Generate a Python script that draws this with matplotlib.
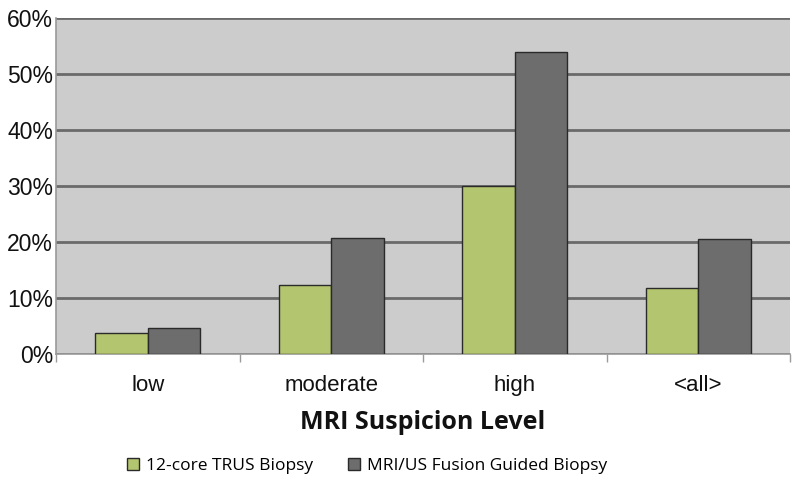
import matplotlib
matplotlib.use("Agg")
import matplotlib.pyplot as plt
import numpy as np
from matplotlib.ticker import FuncFormatter, FixedLocator

categories = ["low", "moderate", "high", "<all>"]
trus = [3.7, 12.3, 30.0, 11.8]
fusion = [4.6, 20.8, 54.0, 20.5]
series_names = ["12-core TRUS Biopsy", "MRI/US Fusion Guided Biopsy"]
yticks = [0, 10, 20, 30, 40, 50, 60]

fig = plt.figure(figsize=(8, 4.91), dpi=100)
ax = fig.add_axes([56/800, 1-354/491, (790-56)/800, (354-18)/491])
ax.set_facecolor("#cccccc")

x = np.arange(len(categories))
w = 0.285
b1 = ax.bar(x - w/2, trus, w, color="#b3c56f", edgecolor="#2a2a2a", linewidth=1.0, zorder=3, label=series_names[0])
b2 = ax.bar(x + w/2, fusion, w, color="#6d6d6d", edgecolor="#2a2a2a", linewidth=1.0, zorder=3, label=series_names[1])

ax.set_xlim(-0.5, len(categories) - 0.5)
ax.set_ylim(0, 60)
ax.set_yticks(yticks)
ax.yaxis.set_major_formatter(FuncFormatter(lambda v, p: f"{int(v)}%"))
ax.grid(axis="y", color="#6a6a6a", linewidth=2.0, zorder=1)
ax.set_axisbelow(True)

ax.set_xticks(x)
ax.set_xticklabels(categories, fontsize=16, fontfamily="Liberation Sans", color="#111111")
ax.xaxis.set_minor_locator(FixedLocator(np.arange(-0.5, len(categories), 1.0)))
ax.tick_params(axis="x", which="major", length=0, pad=15)
ax.tick_params(axis="x", which="minor", length=6, color="#9a9a9a", width=1)
ax.tick_params(axis="y", length=0, pad=2, labelsize=16.5, labelcolor="#111111")
for lab in ax.get_yticklabels():
    lab.set_fontfamily("Liberation Sans")

for s in ["top", "right"]:
    ax.spines[s].set_visible(False)
ax.spines["left"].set_color("#999999")
ax.spines["bottom"].set_color("#999999")
ax.spines["left"].set_linewidth(1.2)
ax.spines["bottom"].set_linewidth(1.2)

ax.set_xlabel("MRI Suspicion Level", fontsize=18, fontweight="bold", fontfamily="Open Sans", labelpad=10, color="#111111")

fig.legend(handles=[b1, b2], labels=series_names, loc="center", bbox_to_anchor=(367/800, 1-466/491),
           ncol=2, frameon=False, prop={"family": "Open Sans", "size": 12.5},
           handlelength=0.7, handleheight=0.7, handletextpad=0.4, columnspacing=2.0)

fig.savefig("out.png", dpi=100)
